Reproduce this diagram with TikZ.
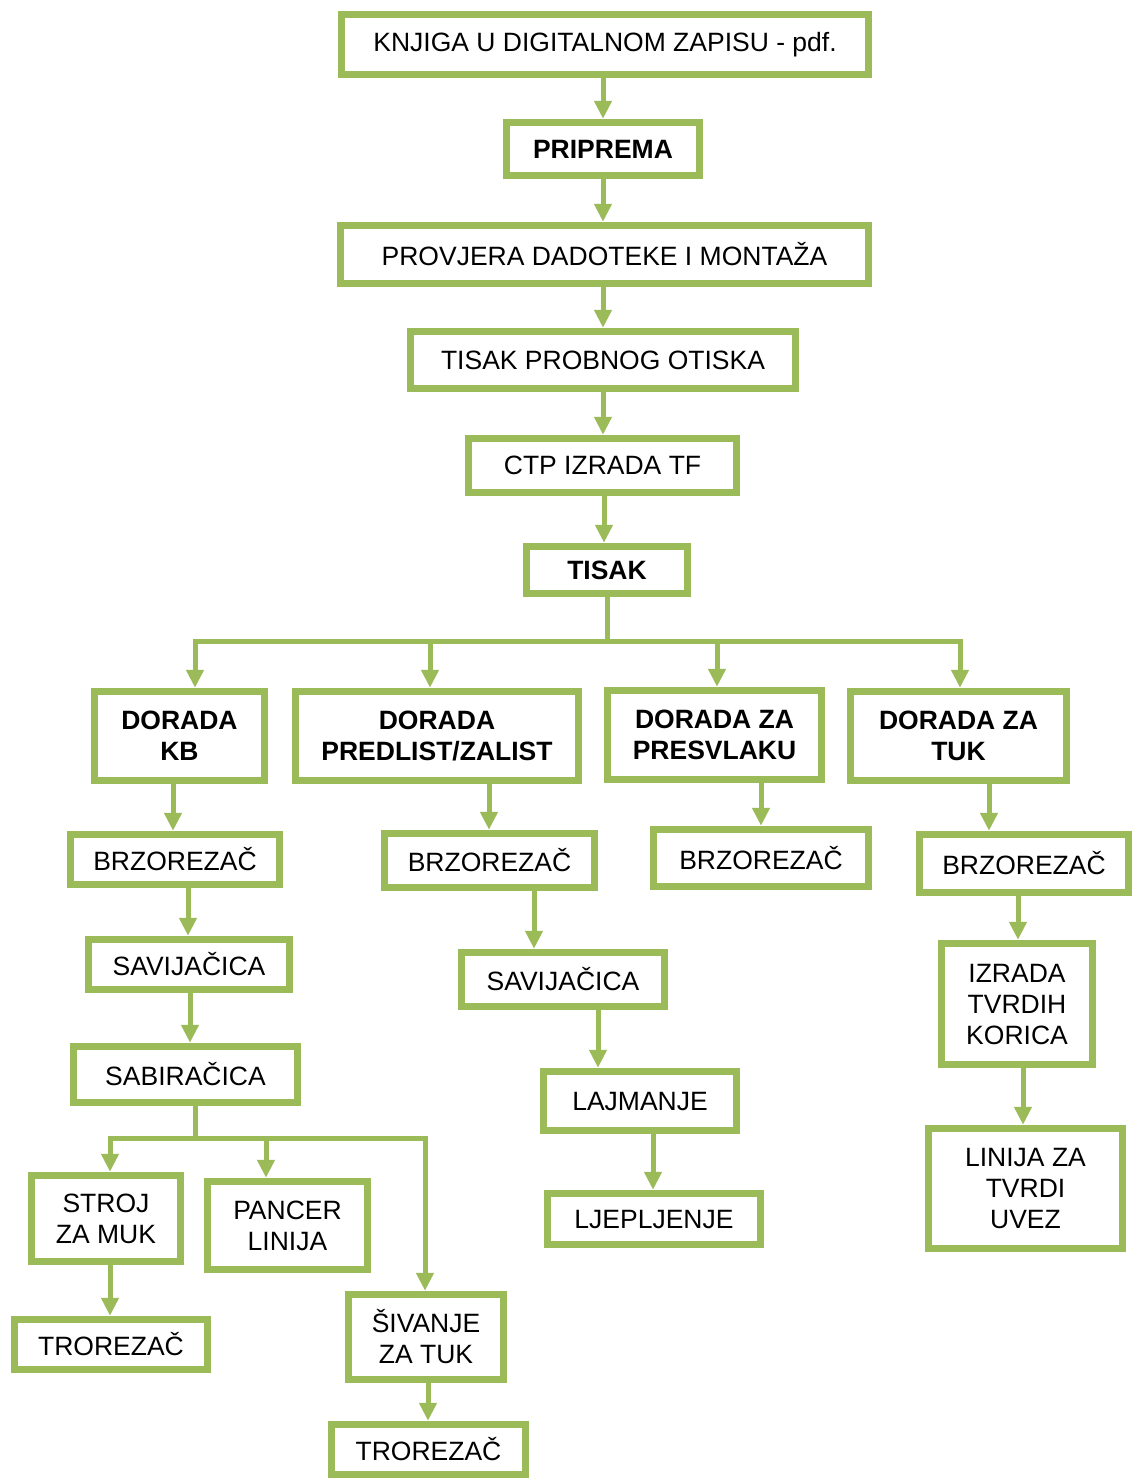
\documentclass[tikz,border=0pt]{standalone}
\usepackage{fontspec}
\setmainfont{Liberation Sans}
\usepackage{tikz}
\usetikzlibrary{arrows.meta}
\definecolor{boxgreen}{HTML}{9BBB59}

\begin{document}
\begin{tikzpicture}
	[x=1pt, y=-1pt,%
	box/.style ={rectangle,	draw=boxgreen,	fill=white,	line width=7.5pt,	inner sep=0pt,	align=center,	font=\fontsize{26.5}{31}\selectfont},%
	bbox/.style={box,	font=\fontsize{26.5}{31}\selectfont\bfseries},%
	line/.style={draw=boxgreen,	line width=5pt},%
	arr/.style ={line,	-{Triangle[length=18pt,width=17pt]}},%
	]

	\useasboundingbox (0,0) rectangle (1133,1481);

	% nodes
	\node (knjiga)		at (605,44.5)		[box,	minimum width=527, minimum height=60] {KNJIGA U DIGITALNOM ZAPISU - pdf.};
	\node (priprema)	at (603,149)		[bbox,	minimum width=193, minimum height=53] {PRIPREMA};
	\node (provjera)	at (604.5,254.5)	[box,	minimum width=528, minimum height=58] {PROVJERA DADOTEKE I MONTAŽA};
	\node (probni)		at (603,360)		[box,	minimum width=385, minimum height=57] {TISAK PROBNOG OTISKA};
	\node (ctp)		at (602.5,465.5)	[box,	minimum width=268, minimum height=54] {CTP IZRADA TF};
	\node (tisak)		at (607,570)		[bbox,	minimum width=161, minimum height=47] {TISAK};

	\node (kb)		at (179.5,736)	[bbox,	minimum width=170, minimum height=89] {DORADA\\KB};
	\node (predlist)	at (437,736)		[bbox,	minimum width=283, minimum height=89] {DORADA\\PREDLIST/ZALIST};
	\node (presvlaka)	at (714.5,735)	[bbox,	minimum width=214, minimum height=89] {DORADA ZA\\PRESVLAKU};
	\node (tuk)		at (958.5,736)	[bbox,	minimum width=216, minimum height=89] {DORADA ZA\\TUK};

	\foreach \n/\x/\y/\w/\h in {brza/175/859.5/209/50, brzb/489.5/860.5/210/54, brzc/761/858/215/57, brzd/1024/863.5/209/58}
		\node (\n) at (\x,\y) [box, minimum width=\w, minimum height=\h] {BRZOREZAČ};

	\node (sava)		at (189,964.5)	[box,	minimum width=201, minimum height=50] {SAVIJAČICA};
	\node (sabiracica)	at (185.5,1074.5)	[box,	minimum width=224, minimum height=56] {SABIRAČICA};
	\node (muk)		at (106,1218.5)	[box,	minimum width=149, minimum height=86] {STROJ\\ZA MUK};
	\node (pancer)		at (287.5,1225.5)	[box,	minimum width=160, minimum height=88] {PANCER\\LINIJA};
	\node (sivanje)	at (426,1337)		[box,	minimum width=155, minimum height=85] {ŠIVANJE\\ZA TUK};
	\node (trora)		at (111,1344.5)	[box,	minimum width=193, minimum height=50] {TROREZAČ};
	\node (trorb)		at (428.5,1449.5)	[box,	minimum width=194, minimum height=50] {TROREZAČ};

	\node (savb)		at (563,979.5)	[box,	minimum width=203, minimum height=54] {SAVIJAČICA};
	\node (lajmanje)	at (640,1101)		[box,	minimum width=193, minimum height=59] {LAJMANJE};
	\node (ljepljenje)	at (654,1219)		[box,	minimum width=213, minimum height=51] {LJEPLJENJE};

	\node (korice)		at (1017,1004)	[box,	minimum width=151, minimum height=121] {IZRADA\\TVRDIH\\KORICA};
	\node (uvez)		at (1025.5,1188.5)	[box,	minimum width=194, minimum height=120] {LINIJA ZA\\TVRDI\\UVEZ};

	% straight connections
	\foreach \i/\o/\x in {knjiga/priprema/603, priprema/provjera/603, provjera/probni/603, probni/ctp/603, ctp/tisak/604,%
						kb/brza/173, brza/sava/188, sava/sabiracica/190, muk/trora/110, sivanje/trorb/428,%
						predlist/brzb/489, brzb/savb/534, savb/lajmanje/598, lajmanje/ljepljenje/653,%
						presvlaka/brzc/761, tuk/brzd/989, brzd/korice/1018, korice/uvez/1023%
						}
		\draw [arr] (\i.south -| \x,0) -- (\o.north -| \x,0);

	% branches after tisak
	\coordinate (hub) at (607,641);
	\draw [line] (tisak.south) -- (hub);
	\foreach \o/\x in {kb/195, predlist/430, presvlaka/717, tuk/960}
		\draw [arr] (hub) -| (\o.north -| \x,0);

	% branches after sabiracica
	\coordinate (hubb) at (195,1138);
	\draw [line] (sabiracica.south -| hubb) -- (hubb);
	\foreach \o/\x in {muk/110, pancer/266, sivanje/425}
		\draw [arr] (hubb) -| (\o.north -| \x,0);

\end{tikzpicture}
\end{document}
